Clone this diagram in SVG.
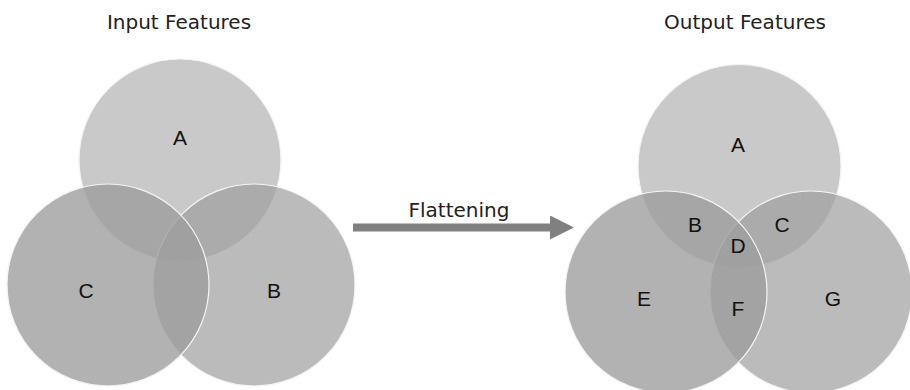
<svg xmlns="http://www.w3.org/2000/svg" width="910" height="390" viewBox="0 0 910 390">
<defs>
<style>
.title{font-family:"DejaVu Sans","Liberation Sans",sans-serif;font-size:20px;fill:#222;text-anchor:middle}
.lbl{font-family:"Liberation Sans",Arial,sans-serif;font-size:21px;fill:#111;text-anchor:middle}
.cA{fill:#c9c9c9;stroke:#f4f4f4;stroke-width:1.2}
.cL{fill:#9c9c9c;fill-opacity:0.78;stroke:#f4f4f4;stroke-width:1.2}
.cR{fill:#9e9e9e;fill-opacity:0.7;stroke:#f4f4f4;stroke-width:1.2}
</style>
<marker id="ah" markerWidth="3" markerHeight="3" refX="0" refY="1.5" orient="auto" markerUnits="strokeWidth"><path d="M0,0 L3,1.5 L0,3 Z" fill="#808080"/></marker>
</defs>
<rect width="910" height="390" fill="#ffffff"/>
<text class="title" x="179" y="29">Input Features</text>
<text class="title" x="745" y="29">Output Features</text>
<g id="input">
<g id="in-A"><circle class="cA" cx="180" cy="160" r="101"/></g>
<g id="in-B"><circle class="cR" cx="254" cy="285" r="101"/></g>
<g id="in-C"><circle class="cL" cx="108" cy="285" r="101"/></g>
<text class="lbl" x="180" y="145">A</text>
<text class="lbl" x="86" y="298">C</text>
<text class="lbl" x="274" y="298">B</text>
</g>
<g id="connectors">
<line x1="353" y1="227.5" x2="550" y2="227.5" stroke="#808080" stroke-width="8" marker-end="url(#ah)"/>
<text class="title" x="459" y="217">Flattening</text>
</g>
<g id="output">
<g id="out-A"><circle class="cA" cx="739.5" cy="166" r="101.5"/></g>
<g id="out-G"><circle class="cR" cx="811" cy="292" r="101"/></g>
<g id="out-E"><circle class="cL" cx="666" cy="292" r="101"/></g>
<text class="lbl" x="738" y="152">A</text>
<text class="lbl" x="695" y="232">B</text>
<text class="lbl" x="782" y="232">C</text>
<text class="lbl" x="738" y="253">D</text>
<text class="lbl" x="644" y="306">E</text>
<text class="lbl" x="738" y="316">F</text>
<text class="lbl" x="833" y="306">G</text>
</g>
</svg>
